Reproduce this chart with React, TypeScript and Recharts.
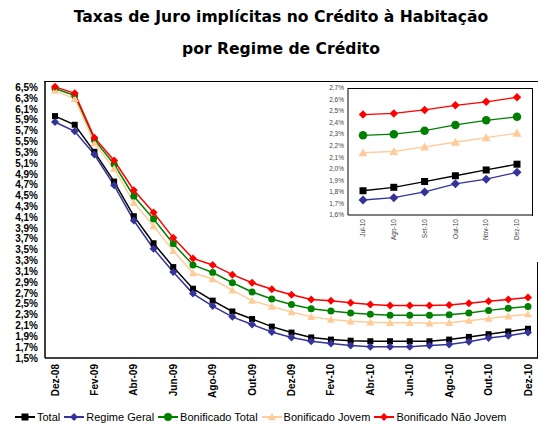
import { Line, LineChart, XAxis, YAxis } from 'recharts';

const months = [
  'Dez-08', 'Jan-09', 'Fev-09', 'Mar-09', 'Abr-09', 'Mai-09', 'Jun-09', 'Jul-09', 'Ago-09', 'Set-09', 'Out-09', 'Nov-09',
  'Dez-09', 'Jan-10', 'Fev-10', 'Mar-10', 'Abr-10', 'Mai-10', 'Jun-10', 'Jul-10', 'Ago-10', 'Set-10', 'Out-10', 'Nov-10', 'Dez-10',
];
const total = [5.97, 5.81, 5.31, 4.76, 4.12, 3.62, 3.18, 2.78, 2.56, 2.36, 2.22, 2.08, 1.97, 1.88, 1.84, 1.82, 1.81, 1.81, 1.81, 1.81, 1.84, 1.89, 1.94, 1.99, 2.04];
const regimeGeral = [5.86, 5.69, 5.26, 4.69, 4.04, 3.52, 3.09, 2.69, 2.46, 2.26, 2.12, 1.98, 1.88, 1.81, 1.77, 1.73, 1.71, 1.71, 1.71, 1.73, 1.75, 1.8, 1.87, 1.91, 1.97];
const bonificadoTotal = [6.48, 6.35, 5.53, 5.08, 4.49, 4.07, 3.61, 3.22, 3.08, 2.89, 2.72, 2.59, 2.49, 2.41, 2.37, 2.33, 2.31, 2.29, 2.29, 2.29, 2.3, 2.33, 2.38, 2.42, 2.45];
const bonificadoJovem = [6.44, 6.29, 5.47, 5.0, 4.37, 3.94, 3.48, 3.07, 2.96, 2.75, 2.56, 2.45, 2.35, 2.26, 2.21, 2.18, 2.16, 2.15, 2.15, 2.14, 2.15, 2.19, 2.23, 2.27, 2.31];
const bonificadoNaoJovem = [6.51, 6.39, 5.57, 5.15, 4.6, 4.19, 3.72, 3.34, 3.22, 3.04, 2.89, 2.77, 2.67, 2.58, 2.56, 2.52, 2.49, 2.47, 2.47, 2.47, 2.48, 2.51, 2.55, 2.58, 2.62];

const mainTicks = [1.5, 1.7, 1.9, 2.1, 2.3, 2.5, 2.7, 2.9, 3.1, 3.3, 3.5, 3.7, 3.9, 4.1, 4.3, 4.5, 4.7, 4.9, 5.1, 5.3, 5.5, 5.7, 5.9, 6.1, 6.3, 6.5];
const insetTicks = [1.6, 1.7, 1.8, 1.9, 2.0, 2.1, 2.2, 2.3, 2.4, 2.5, 2.6, 2.7];
const insetCount = 6; // Jul-10 .. Dez-10

const series = [
  { key: 'total', name: 'Total', color: '#000000', shape: 'square', values: total },
  { key: 'geral', name: 'Regime Geral', color: '#333399', shape: 'diamond', values: regimeGeral },
  { key: 'bonTotal', name: 'Bonificado Total', color: '#008000', shape: 'circle', values: bonificadoTotal },
  { key: 'bonJovem', name: 'Bonificado Jovem', color: '#FFCC99', shape: 'triangle', values: bonificadoJovem },
  { key: 'bonNaoJovem', name: 'Bonificado Não Jovem', color: '#FF0000', shape: 'diamond', values: bonificadoNaoJovem },
];

const mainData = months.map((m, i) => {
  const row: Record<string, string | number> = { month: m };
  series.forEach((s) => (row[s.key] = s.values[i]));
  return row;
});
const insetData = mainData.slice(-insetCount);

const ARIAL = '"Liberation Sans", Arial, sans-serif';
const pct = (v: number) => `${v.toFixed(1).replace('.', ',')}%`;

// chart boxes: size, margins, axis sizes
const MAIN = { w: 556, h: 400, m: { top: 82, right: 18, bottom: 2, left: 0 }, yw: 45, xh: 40, stroke: 1.5 };
const INSET = { w: 239, h: 180, m: { top: 6, right: 7, bottom: 7, left: 0 }, yw: 48, xh: 40, stroke: 1 };

function Marker({ shape, cx, cy, color, size }: { shape: string; cx: number; cy: number; color: string; size: number }) {
  if (cx == null || cy == null) return null;
  const h = size / 2;
  if (shape === 'square') return <rect x={cx - h} y={cy - h} width={size} height={size} fill={color} />;
  if (shape === 'circle') return <circle cx={cx} cy={cy} r={h} fill={color} />;
  if (shape === 'triangle')
    return <polygon points={`${cx},${cy - h} ${cx + h},${cy + h * 0.8} ${cx - h},${cy + h * 0.8}`} fill={color} />;
  return <polygon points={`${cx},${cy - h} ${cx + h},${cy} ${cx},${cy + h} ${cx - h},${cy}`} fill={color} />;
}

function RotTick({ x, y, payload, size, bold, color }: any) {
  return (
    <text
      x={x}
      y={y}
      transform={`rotate(-90 ${x} ${y})`}
      textAnchor="end"
      dy="0.35em"
      fontSize={size}
      fontWeight={bold ? 'bold' : 'normal'}
      fontFamily={ARIAL}
      fill={color}
    >
      {payload.value}
    </text>
  );
}

function renderLines(sizes: Record<string, number>, width: number) {
  return series.map((s) => (
    <Line
      key={s.key}
      dataKey={s.key}
      name={s.name}
      stroke={s.color}
      strokeWidth={width}
      isAnimationActive={false}
      dot={(p: any) => (
        <Marker key={`${s.key}-${p.index}`} shape={s.shape} cx={p.cx} cy={p.cy} color={s.color} size={sizes[s.key]} />
      )}
      activeDot={false}
    />
  ));
}

// top + right edges of the plot frame (left/bottom come from the axis lines)
function PlotFrame({ box }: { box: typeof MAIN }) {
  const left = box.m.left + box.yw;
  const top = box.m.top;
  const width = box.w - left - box.m.right;
  const height = box.h - top - box.m.bottom - box.xh;
  return (
    <div
      style={{
        position: 'absolute', left: left - box.stroke / 2, top: top - box.stroke / 2, width, height,
        borderTop: `${box.stroke}px solid #000`, borderRight: `${box.stroke}px solid #000`, pointerEvents: 'none',
      }}
    />
  );
}

const mainSizes = { total: 6, geral: 8, bonTotal: 7, bonJovem: 8, bonNaoJovem: 8 };
const insetSizes = { total: 7, geral: 9, bonTotal: 8.5, bonJovem: 9, bonNaoJovem: 8.5 };

function LegendIcon({ shape, color }: { shape: string; color: string }) {
  return (
    <svg width={20} height={10} style={{ display: 'block' }}>
      <line x1={0} y1={5} x2={20} y2={5} stroke={color} strokeWidth={2} />
      <Marker shape={shape} cx={10} cy={5} color={color} size={shape === 'square' ? 7 : 8} />
    </svg>
  );
}

const titleStyle = {
  position: 'absolute' as const, left: 0, width: 562, textAlign: 'center' as const,
  fontFamily: '"DejaVu Sans", Verdana, sans-serif', fontWeight: 'bold', fontSize: 15.6, lineHeight: '15px', color: '#000',
};

export default function App() {
  return (
    <div style={{ position: 'relative', width: 556, height: 434, background: '#fff', overflow: 'hidden' }}>
      <style>{'body{margin:0}'}</style>
      <div style={{ ...titleStyle, top: 10 }}>Taxas de Juro implícitas no Crédito à Habitação</div>
      <div style={{ ...titleStyle, top: 42 }}>por Regime de Crédito</div>

      <div style={{ position: 'absolute', top: 0, left: 0 }}>
        <LineChart width={MAIN.w} height={MAIN.h} data={mainData} margin={MAIN.m}>
          <XAxis
            dataKey="month"
            interval={1}
            height={MAIN.xh}
            tickSize={0}
            tickMargin={6}
            tickLine={false}
            padding={{ left: 10, right: 10 }}
            axisLine={{ stroke: '#000', strokeWidth: MAIN.stroke }}
            tick={<RotTick size={10} bold color="#000" />}
          />
          <YAxis
            domain={[1.5, 6.6]}
            ticks={mainTicks}
            interval={0}
            width={MAIN.yw}
            tickSize={0}
            tickMargin={7}
            tickLine={false}
            axisLine={{ stroke: '#000', strokeWidth: MAIN.stroke }}
            tickFormatter={pct}
            tick={{ fontSize: 10, fontWeight: 'bold', fontFamily: ARIAL, fill: '#000' }}
          />
          {renderLines(mainSizes, 1.5)}
        </LineChart>
        <PlotFrame box={MAIN} />
      </div>

      <div style={{ position: 'absolute', top: 82, left: 300, width: INSET.w, height: INSET.h, background: '#fff' }}>
        <LineChart width={INSET.w} height={INSET.h} data={insetData} margin={INSET.m}>
          <XAxis
            dataKey="month"
            interval={0}
            height={INSET.xh}
            tickSize={0}
            tickMargin={4}
            tickLine={false}
            padding={{ left: 15, right: 15 }}
            axisLine={{ stroke: '#000', strokeWidth: INSET.stroke }}
            tick={<RotTick size={6.5} color="#444" />}
          />
          <YAxis
            domain={[1.6, 2.7]}
            ticks={insetTicks}
            interval={0}
            width={INSET.yw}
            tickSize={0}
            tickMargin={4}
            tickLine={false}
            axisLine={{ stroke: '#000', strokeWidth: INSET.stroke }}
            tickFormatter={pct}
            tick={{ fontSize: 6.5, fontFamily: ARIAL, fill: '#444' }}
          />
          {renderLines(insetSizes, 1.3)}
        </LineChart>
        <PlotFrame box={INSET} />
      </div>

      <div
        style={{
          position: 'absolute', top: 411, left: 15, display: 'flex', alignItems: 'center',
          fontFamily: ARIAL, fontSize: 11, color: '#000', whiteSpace: 'nowrap',
        }}
      >
        {series.map((s) => (
          <div key={s.key} style={{ display: 'flex', alignItems: 'center', marginRight: 4 }}>
            <LegendIcon shape={s.shape} color={s.color} />
            <span style={{ marginLeft: 2 }}>{s.name}</span>
          </div>
        ))}
      </div>
    </div>
  );
}
